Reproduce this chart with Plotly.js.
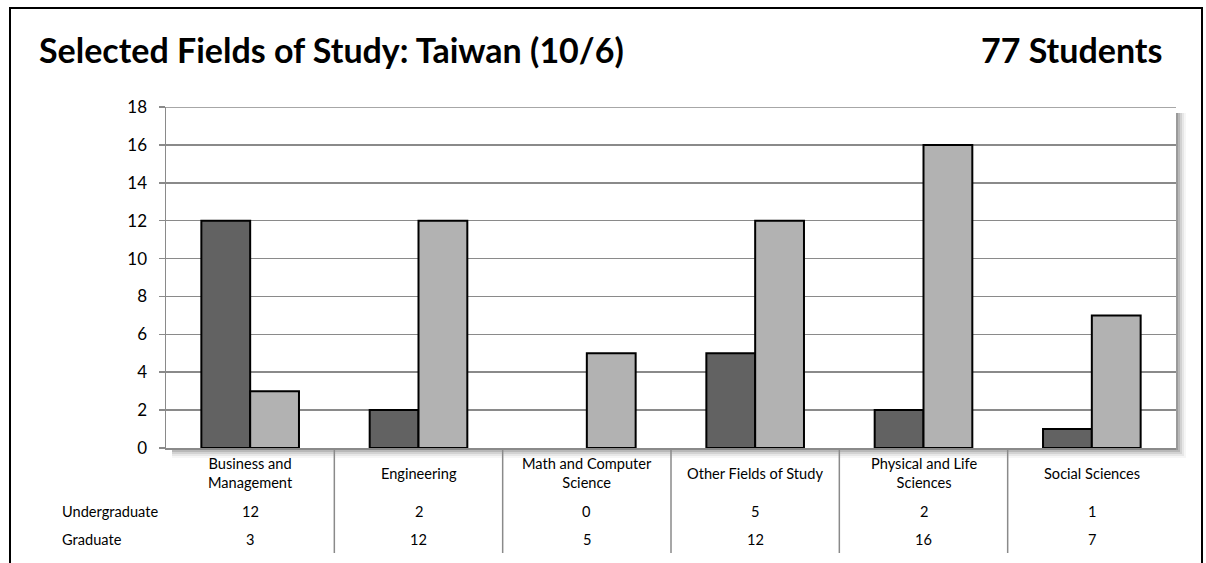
<!DOCTYPE html>
<html><head><meta charset="utf-8">
<script src="https://cdn.plot.ly/plotly-3.0.1.min.js"></script>
<style>body{margin:0;padding:0;background:#fff}#chart{width:1206px;height:563px}</style>
</head><body><div id="chart"></div>
<script>
const categories = ["Business and<br>Management","Engineering","Math and Computer<br>Science","Other Fields of Study","Physical and Life<br>Sciences","Social Sciences"];
const undergraduate = [12, 2, 0, 5, 2, 1];
const graduate = [3, 12, 5, 12, 16, 7];
const seriesNames = ["Undergraduate", "Graduate"];
const yTicks = [0,2,4,6,8,10,12,14,16,18];
const titleText = "Selected Fields of Study: Taiwan (10/6)";
const totalText = "77 Students";

const W = 1206, H = 563, L = 166, R = 30, T = 107, B = 115;
const pw = W - L - R, ph = H - T - B;
const px = v => (v - L) / pw;
const py = v => (H - B - v) / ph;
const font = "Lato, 'Open Sans', sans-serif";
const idx = categories.map((c, i) => i);
const outline = arr => arr.map(v => v > 0 ? 2 : 0);

const traces = [
  {type:'bar', x: idx, y: undergraduate, name: seriesNames[0],
   marker:{color:'#626262', line:{color:'#000', width:outline(undergraduate)}}},
  {type:'bar', x: idx, y: graduate, name: seriesNames[1],
   marker:{color:'#b2b2b2', line:{color:'#000', width:outline(graduate)}}}
];

const shapes = [];
// shadow for plot area
[[2,0.16],[4,0.12],[6,0.09],[8,0.06],[10,0.035]].forEach(([o,a]) => {
  shapes.push({type:'rect', xref:'paper', yref:'paper', x0:px(L+6), x1:px(W-R+o), y0:py(H-B+o), y1:py(T+6),
    fillcolor:'rgba(0,0,0,'+a+')', line:{width:0}, layer:'below'});
});
// white plot face over the shadow
shapes.push({type:'rect', xref:'paper', yref:'paper', x0:0, x1:1, y0:0, y1:1,
  fillcolor:'#ffffff', line:{width:0}, layer:'below'});
// top gridline
shapes.push({type:'line', xref:'paper', yref:'y', x0:0, x1:1, y0:yTicks[yTicks.length-1], y1:yTicks[yTicks.length-1],
  line:{color:'#8a8a8a', width:1.5}, layer:'below'});
// outer border
shapes.push({type:'rect', xref:'paper', yref:'paper', x0:px(10), x1:px(1202), y0:py(575), y1:py(8),
  line:{color:'#000', width:2}, fillcolor:'rgba(0,0,0,0)', layer:'above'});
// table separators
for (let i = 0; i < categories.length - 1; i++) {
  shapes.push({type:'line', xref:'x', yref:'paper', x0:i+0.5, x1:i+0.5, y0:0, y1:py(553),
    line:{color:'#8a8a8a', width:1.5}});
}

const annotations = [];
annotations.push({text:'<b>'+titleText+'</b>', xref:'paper', yref:'paper', x:px(37), y:py(50),
  xanchor:'left', yanchor:'middle', showarrow:false, font:{family:font, size:34, color:'#000'}});
annotations.push({text:'<b>'+totalText+'</b>', xref:'paper', yref:'paper', x:px(1164), y:py(50),
  xanchor:'right', yanchor:'middle', showarrow:false, font:{family:font, size:34, color:'#000'}});
const tf = {family:font, size:14.6, color:'#000'};
categories.forEach((c, i) => {
  annotations.push({text:c, xref:'x', yref:'paper', x:i, y:py(473), xanchor:'center', yanchor:'middle',
    showarrow:false, font:tf});
  annotations.push({text:String(undergraduate[i]), xref:'x', yref:'paper', x:i, y:py(511), xanchor:'center', yanchor:'middle',
    showarrow:false, font:tf});
  annotations.push({text:String(graduate[i]), xref:'x', yref:'paper', x:i, y:py(539), xanchor:'center', yanchor:'middle',
    showarrow:false, font:tf});
});
[[seriesNames[0],511],[seriesNames[1],539]].forEach(([t,y]) => {
  annotations.push({text:t, xref:'paper', yref:'paper', x:px(60), y:py(y), xanchor:'left', yanchor:'middle',
    showarrow:false, font:tf});
});

const layout = {
  width: W, height: H,
  margin:{l:L, r:R, t:T, b:B, pad:0},
  paper_bgcolor:'#fff', plot_bgcolor:'rgba(0,0,0,0)',
  showlegend:false,
  barmode:'group', bargap:0.42, bargroupgap:0,
  xaxis:{range:[-0.5, categories.length-0.5], showticklabels:false, ticks:'', showgrid:false,
    zeroline:false, showline:true, linecolor:'#8a8a8a', linewidth:1.5, fixedrange:true},
  yaxis:{range:[0,18], tickvals:yTicks, ticks:'outside', ticklen:6, tickcolor:'#8a8a8a', tickwidth:1.5,
    showgrid:true, gridcolor:'#8a8a8a', gridwidth:1.5, zeroline:false, showline:true, linecolor:'#8a8a8a',
    linewidth:1.5, tickfont:{family:font, size:17, color:'#000'}, ticklabelstandoff:8},
  shapes: shapes, annotations: annotations
};
Plotly.newPlot('chart', traces, layout, {displayModeBar:false, staticPlot:true});
</script></body></html>
